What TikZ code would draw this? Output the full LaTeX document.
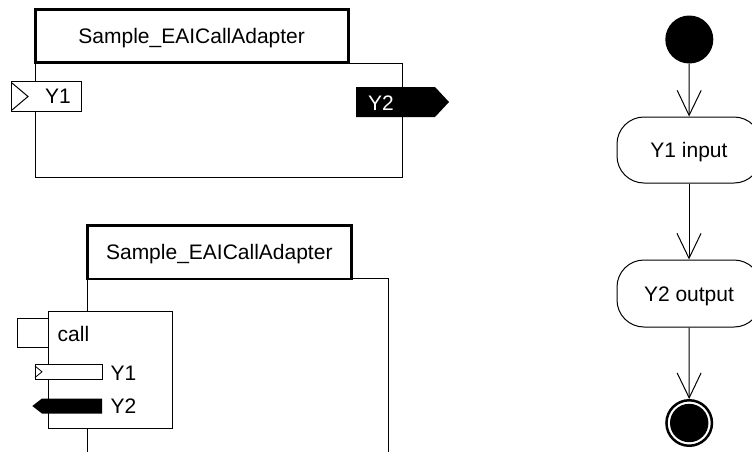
\documentclass[tikz,border=0pt]{standalone}
\usepackage{fontspec}
\setmainfont{Liberation Sans}
\usetikzlibrary{arrows.meta}
\newcommand\lblfont{\fontsize{21}{25}\selectfont}
\tikzset{
  thinln/.style={draw=black, line width=1pt},
  lbl/.style={inner sep=0pt, text height=15pt, text depth=0pt, font=\lblfont},
  titlebox/.style={draw=black, line width=2.7pt, fill=white, lbl},
  framebox/.style={thinln, fill=white, inner sep=0pt},
  action/.style={thinln, fill=white, rounded corners=27pt, lbl, minimum width=144pt},
  flow/.style={line width=1pt, -{Straight Barb[length=25pt,width=24pt]}},
}
\begin{document}
\begin{tikzpicture}[x=1pt,y=-1pt]
\useasboundingbox (0,0) rectangle (752,451);
\clip (0,0) rectangle (752,451);

% ---------- top block ----------
\node[framebox, minimum width=367pt, minimum height=114pt] (m1) at (218.5,120) {};
\node[titlebox, minimum width=313pt, minimum height=52.5pt] (t1) at (191.7,36) {Sample\_EAICallAdapter};
\node[framebox, minimum width=70pt, minimum height=30pt] (p1) at (46,96.5) {};
\draw[thinln, line join=miter] (12,83) -- (28,96.5) -- (12,110);
\node[lbl, anchor=west] (p1t) at (45,95.5) {Y1};
\fill[black] (356,87) -- (435,87) -- (449,102) -- (435,117) -- (356,117) -- cycle;
\coordinate (p2) at (400,102);
\node[lbl, anchor=west, text=white] (p2t) at (368,103) {Y2};

% ---------- bottom block ----------
\draw[thinln] (87,470) -- (87,278) -- (388,278) -- (388,470);
\node[titlebox, minimum width=264pt, minimum height=53.7pt] (t2) at (219.3,252.2) {Sample\_EAICallAdapter};
\node[framebox, minimum width=124pt, minimum height=117pt] (c1) at (110,369.5) {};
\node[framebox, minimum width=31pt, minimum height=29pt] (c0) at (32.5,332.5) {};
\node[lbl, anchor=west] (ct) at (57.5,334) {call};
\node[framebox, minimum width=67pt, minimum height=15pt] (b1) at (68.5,371.8) {};
\draw[thinln, line width=0.8pt, line join=miter] (35,366) -- (42,371.8) -- (35,377.5);
\node[lbl, anchor=west] (b1t) at (110.5,372.5) {Y1};
\fill[black] (102,398.5) -- (102,413.5) -- (42,413.5) -- (32.3,406) -- (42,398.5) -- cycle;
\coordinate (b2) at (70,406);
\node[lbl, anchor=west] (b2t) at (110.5,406) {Y2};

% ---------- activity flow ----------
\node[circle, fill=black, minimum size=48pt, inner sep=0pt] (s) at (689.3,39.5) {};
\node[action, minimum height=66pt] (a1) at (689,150) {Y1 input};
\node[action, minimum height=67pt] (a2) at (689,293.5) {Y2 output};
\node[circle, draw=black, line width=2.5pt, minimum size=45.5pt, inner sep=0pt,
      path picture={\fill[black] (path picture bounding box.center) circle (19.2pt);}] (e) at (689.2,423) {};
\draw[flow] (s) -- (a1);
\draw[flow] (a1) -- (a2);
\draw[flow] (a2) -- (e);
\end{tikzpicture}
\end{document}
